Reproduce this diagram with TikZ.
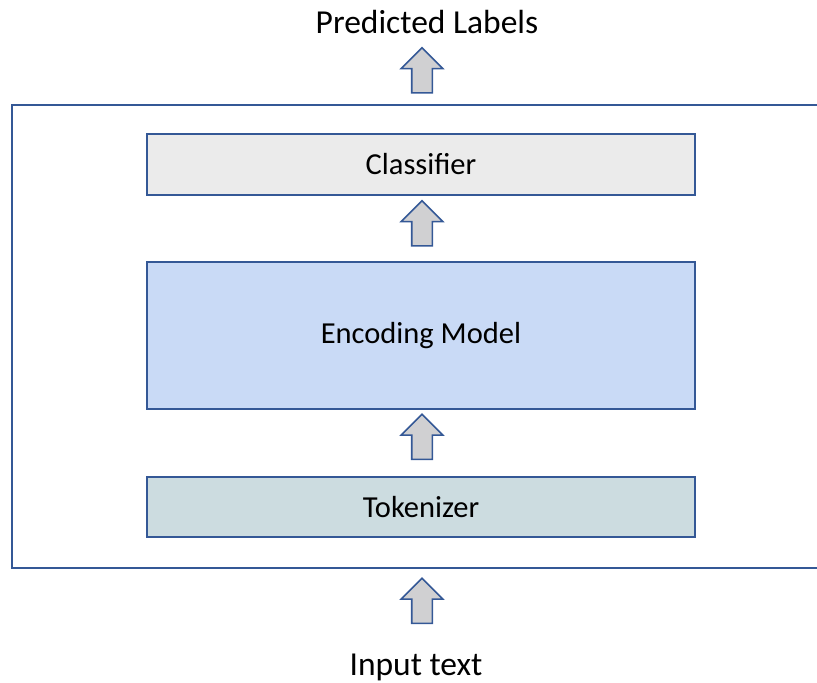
\documentclass[tikz,border=0pt]{standalone}
\usepackage{fontspec}
\setmainfont{Carlito}
\usetikzlibrary{positioning, shapes.arrows}

\definecolor{frameblue}{RGB}{52,88,150}
\definecolor{clsgray}{RGB}{235,235,235}
\definecolor{encblue}{RGB}{201,218,246}
\definecolor{tokgray}{RGB}{204,220,224}
\definecolor{arrgray}{RGB}{208,208,210}

\begin{document}
\begin{tikzpicture}[
  x=1pt, y=-1pt,
  stage/.style={draw=frameblue, line width=2pt, minimum width=548pt, align=center, font=\fontsize{30.5}{34}\selectfont},
  uparr/.style={single arrow, draw=frameblue, fill=arrgray, line width=1.6pt, shape border rotate=90,
    minimum height=45pt, inner sep=9.5pt, single arrow head extend=10.5pt},
  lbl/.style={font=\fontsize{33.5}{38}\selectfont}
]
  \useasboundingbox (0,0) rectangle (817,683);
  % outer frame, open on the right
  \draw[frameblue, line width=2pt] (818,105) -- (12,105) -- (12,568) -- (818,568);

  \node[stage, fill=clsgray, minimum height=61pt] (cls) at (421,164.5) {Classifier};
  \node[stage, fill=encblue, minimum height=147pt] (enc) at (421,335.5) {Encoding Model};
  \node[stage, fill=tokgray, minimum height=60pt] (tok) at (421,507) {Tokenizer};

  \node[lbl] (out) at (427,22) {Predicted Labels};
  \node[lbl] (in) at (416,667) {Input text};

  \node[uparr] (a4) at (422,606) {};
  \node[uparr] (a3) at (422,442) {};
  \node[uparr] (a2) at (422,228.5) {};
  \node[uparr] (a1) at (422,75.5) {};
\end{tikzpicture}
\end{document}
